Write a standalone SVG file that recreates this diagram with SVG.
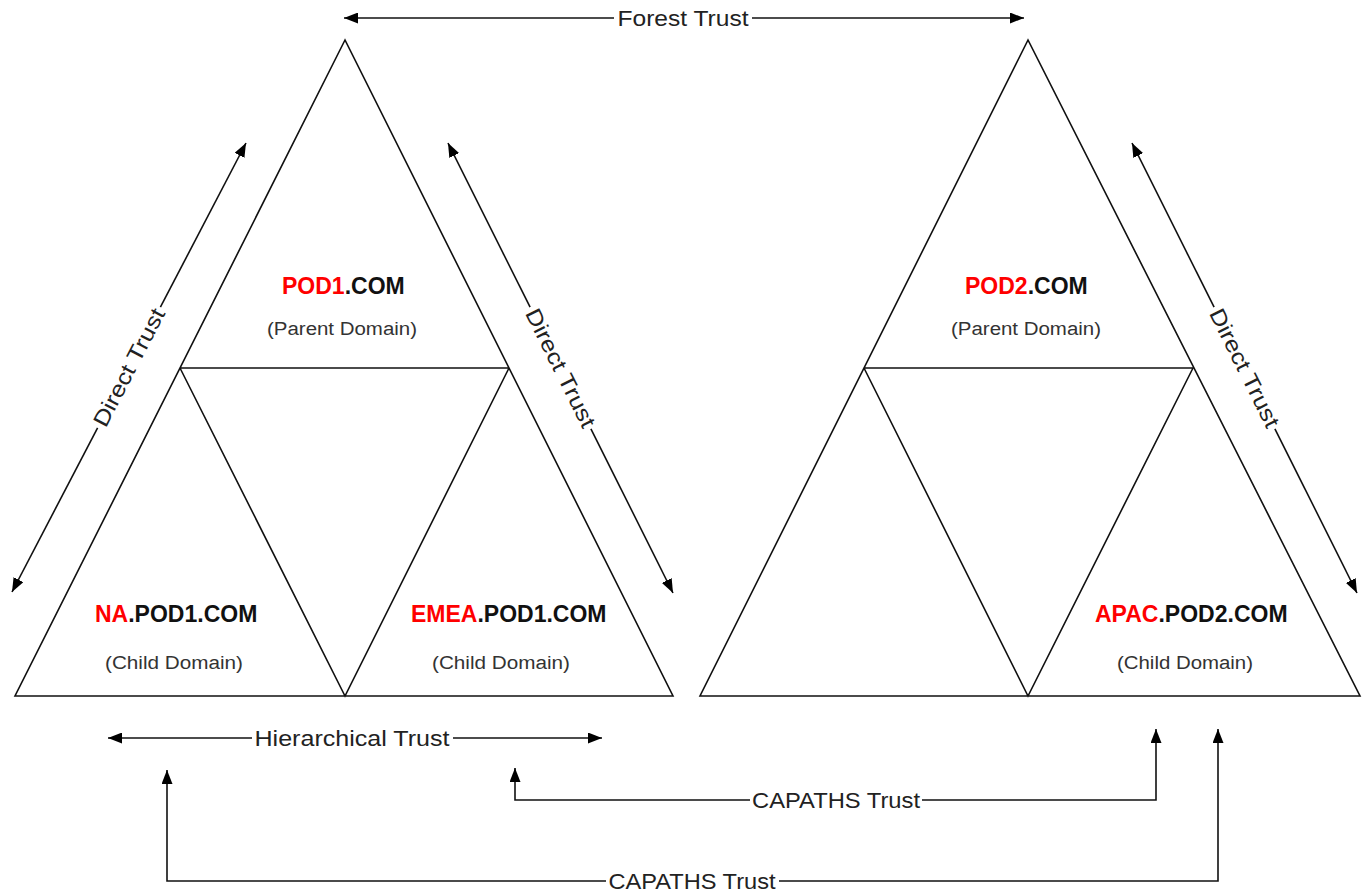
<svg xmlns="http://www.w3.org/2000/svg" width="1369" height="896" viewBox="0 0 1369 896">
<defs>
<style>
.tri{fill:none;stroke:#111;stroke-width:1.6;stroke-linejoin:miter}
.con{fill:none;stroke:#111;stroke-width:1.6}
.lbl{font-family:"Liberation Sans",Arial,sans-serif;font-size:22px;fill:#222;text-anchor:middle}
.dom{font-family:"Liberation Sans",Arial,sans-serif;font-size:23px;font-weight:bold;fill:#111;text-anchor:start}
.sub{font-family:"Liberation Sans",Arial,sans-serif;font-size:18px;fill:#333;text-anchor:middle}
.red{fill:#ff0000}
</style>
<marker id="arr" viewBox="0 0 14 11" refX="14" refY="5.5" markerWidth="14" markerHeight="11" orient="auto" markerUnits="userSpaceOnUse">
<path d="M0,0 L14,5.5 L0,11 z" fill="#000"/>
</marker>
</defs>
<rect width="1369" height="896" fill="#fff"/>

<g id="forest1">
<path class="tri" d="M345,40 L15,696 L673,696 Z M180,368 L509,368 M180,368 L345,696 L509,368"/>
</g>
<g id="pod1">
<text class="dom" x="282" y="294"><tspan class="red">POD1</tspan>.COM</text>
<text class="sub" x="342" y="335" textLength="150" lengthAdjust="spacingAndGlyphs">(Parent Domain)</text>
</g>
<g id="na-pod1">
<text class="dom" x="95" y="622"><tspan class="red">NA</tspan>.POD1.COM</text>
<text class="sub" x="174" y="669" textLength="138" lengthAdjust="spacingAndGlyphs">(Child Domain)</text>
</g>
<g id="emea-pod1">
<text class="dom" x="411" y="622"><tspan class="red">EMEA</tspan>.POD1.COM</text>
<text class="sub" x="501" y="669" textLength="138" lengthAdjust="spacingAndGlyphs">(Child Domain)</text>
</g>

<g id="forest2">
<path class="tri" d="M1028,40 L700,696 L1360,696 Z M864,368 L1193,368 M864,368 L1028,696 L1193,368"/>
</g>
<g id="pod2">
<text class="dom" x="965" y="294"><tspan class="red">POD2</tspan>.COM</text>
<text class="sub" x="1026" y="335" textLength="150" lengthAdjust="spacingAndGlyphs">(Parent Domain)</text>
</g>
<g id="apac-pod2">
<text class="dom" x="1095" y="622"><tspan class="red">APAC</tspan>.POD2.COM</text>
<text class="sub" x="1185" y="669" textLength="136" lengthAdjust="spacingAndGlyphs">(Child Domain)</text>
</g>

<g id="connectors">
<path class="con" d="M614,18 L344,18" marker-end="url(#arr)"/>
<path class="con" d="M752,18 L1024,18" marker-end="url(#arr)"/>
<text class="lbl" x="683" y="26" textLength="131" lengthAdjust="spacingAndGlyphs">Forest Trust</text>

<path class="con" d="M97.6,427.8 L12,592" marker-end="url(#arr)"/>
<path class="con" d="M160.4,307.2 L246,143" marker-end="url(#arr)"/>
<text class="lbl" x="129" y="375" transform="rotate(-62.5 129 367.5)" textLength="130" lengthAdjust="spacingAndGlyphs">Direct Trust</text>

<path class="con" d="M530.1,307.2 L448,143" marker-end="url(#arr)"/>
<path class="con" d="M590.9,428.8 L673,593" marker-end="url(#arr)"/>
<text class="lbl" x="560.5" y="375.5" transform="rotate(63.4 560.5 368)" textLength="130" lengthAdjust="spacingAndGlyphs">Direct Trust</text>

<path class="con" d="M1214.1,307.2 L1132,143" marker-end="url(#arr)"/>
<path class="con" d="M1274.9,428.8 L1357,593" marker-end="url(#arr)"/>
<text class="lbl" x="1244.5" y="375.5" transform="rotate(63.4 1244.5 368)" textLength="130" lengthAdjust="spacingAndGlyphs">Direct Trust</text>

<path class="con" d="M252,738 L108,738" marker-end="url(#arr)"/>
<path class="con" d="M453,738 L602,738" marker-end="url(#arr)"/>
<text class="lbl" x="352" y="746" textLength="195" lengthAdjust="spacingAndGlyphs">Hierarchical Trust</text>

<path class="con" d="M750,800 L515,800 L515,768" marker-end="url(#arr)"/>
<path class="con" d="M922,800 L1156,800 L1156,729" marker-end="url(#arr)"/>
<text class="lbl" x="836" y="808" textLength="168" lengthAdjust="spacingAndGlyphs">CAPATHS Trust</text>

<path class="con" d="M606,881 L167,881 L167,770" marker-end="url(#arr)"/>
<path class="con" d="M779,881 L1218,881 L1218,729" marker-end="url(#arr)"/>
<text class="lbl" x="692" y="889" textLength="167" lengthAdjust="spacingAndGlyphs">CAPATHS Trust</text>
</g>
</svg>
